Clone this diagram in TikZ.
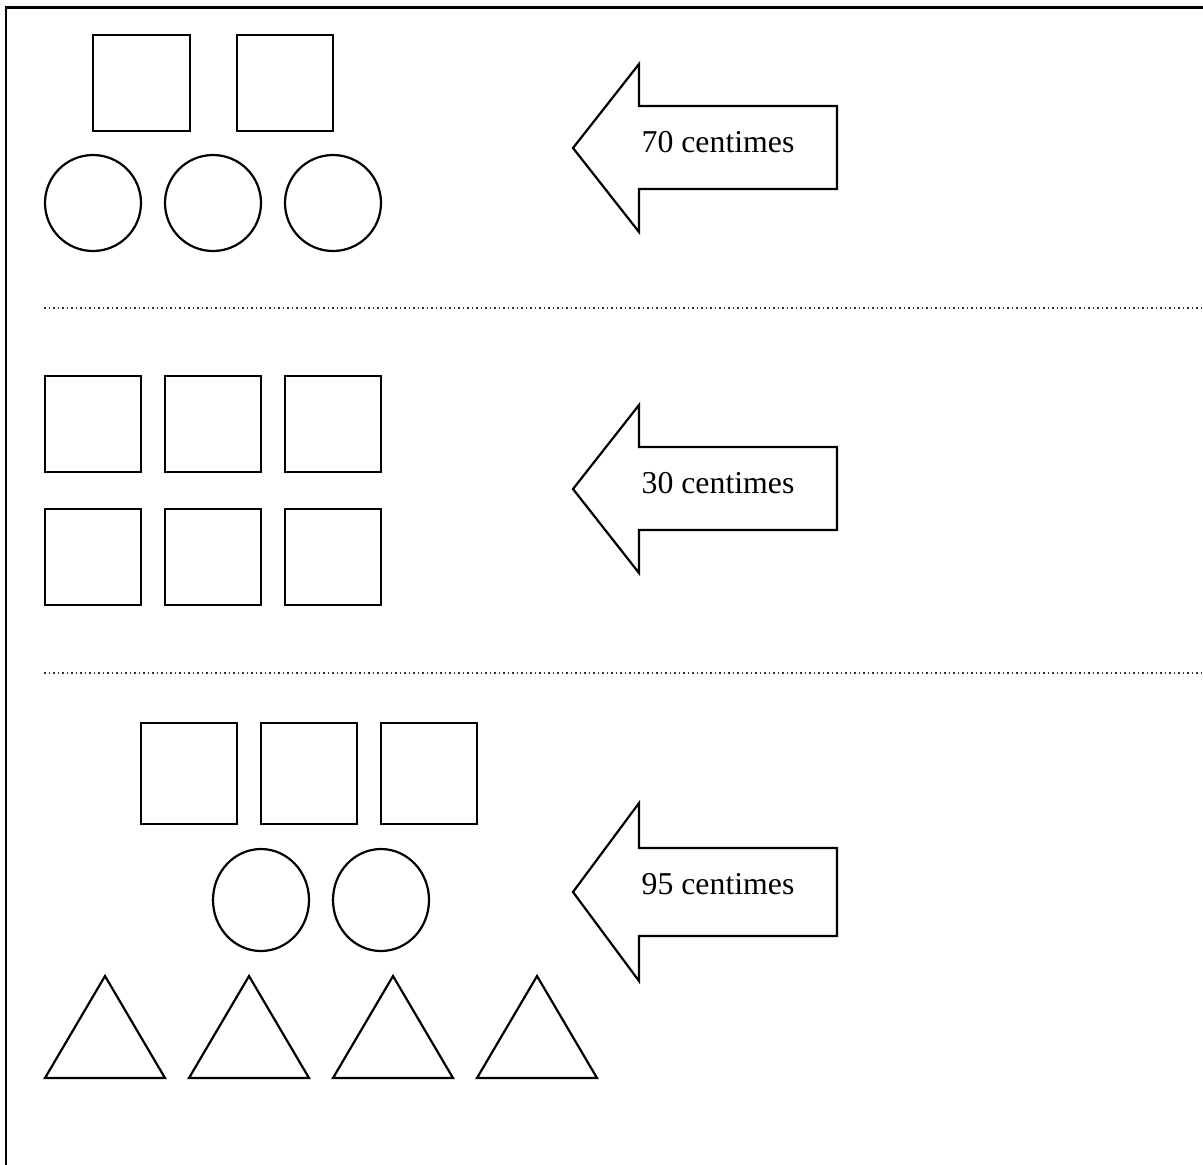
\documentclass[tikz,border=0pt]{standalone}
\usepackage{fontspec}
\setmainfont{Liberation Serif}
\begin{document}
\begin{tikzpicture}[x=0.5pt,y=-0.5pt,
  outl/.style={draw=black,line width=1.1pt,line join=miter},
  sep/.style={draw=black!80,line width=0.9pt,dash pattern=on 0.9pt off 1.35pt},
  frame/.style={draw=black,line width=1.2pt},
  pricetext/.style={font=\fontsize{15.9}{18}\selectfont,inner sep=0pt}]
\useasboundingbox (0,0) rectangle (1203,1164);

% outer frame (top and left edges)
\draw[frame] (6,1170) -- (6,7.5) -- (1210,7.5);

% separators
\coordinate (s1a) at (44,308); \coordinate (s1b) at (1203,308);
\coordinate (s2a) at (44,673); \coordinate (s2b) at (1203,673);
\draw[sep] (s1a) -- (s1b);
\draw[sep] (s2a) -- (s2b);

% ---- first group: 2 squares, 3 circles
\draw[outl] (93,35) rectangle (190,131);
\draw[outl] (237,35) rectangle (333,131);
\foreach \cx in {93,213,333}
  \draw[outl] (\cx,203) circle [radius=48];

% ---- second group: 6 squares
\foreach \sx in {45,165,285}{
  \draw[outl] (\sx,376) rectangle ++(96,96);
  \draw[outl] (\sx,509) rectangle ++(96,96);
}

% ---- third group: 3 squares, 2 circles, 4 triangles
\foreach \sx in {141,261,381}
  \draw[outl] (\sx,723) rectangle ++(96,101);
\foreach \cx in {261,381}
  \draw[outl] (\cx,900) ellipse [x radius=48, y radius=51];
\foreach \tx in {45,189,333,477}
  \draw[outl] (\tx,1078) -- ++(60,-102) -- ++(60,102) -- cycle;

% ---- price arrows
\newcommand{\pricearrow}[4]{% tip y, shaft top, shaft bottom, head half-height
  \draw[outl] (573,#1) -- (639,#1-#4) -- (639,#2) -- (837,#2) -- (837,#3)
    -- (639,#3) -- (639,#1+#4) -- cycle;}
\pricearrow{148}{106}{189}{84}
\pricearrow{489}{447}{530}{84}
\pricearrow{892}{848}{936}{89}

\node[pricetext] (p1) at (718,142) {70 centimes};
\node[pricetext] (p2) at (718,483) {30 centimes};
\node[pricetext] (p3) at (718,884) {95 centimes};
\end{tikzpicture}
\end{document}
